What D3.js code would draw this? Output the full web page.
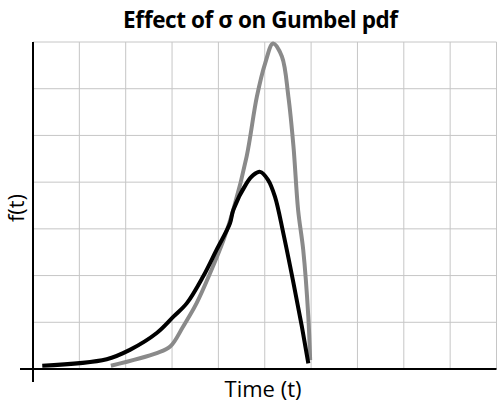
<!DOCTYPE html>
<html>
<head>
<meta charset="utf-8">
<script src="https://cdn.jsdelivr.net/npm/d3@7"></script>
<style>
  body { margin: 0; background: #fff; }
  svg { display: block; font-family: "Open Sans", "DejaVu Sans", sans-serif; }
</style>
</head>
<body>
<svg id="chart" width="500" height="405"></svg>
<script>
// values, in grid units (t across, f(t) up)
const blackT = [0.20, 1.59, 2.09, 2.67, 3.03, 3.32, 3.67, 3.96, 4.25, 4.32, 4.61, 4.75, 4.90, 5.07, 5.22, 5.40, 5.62, 5.80, 5.94];
const blackF = [0.07, 0.21, 0.41, 0.77, 1.12, 1.41, 1.98, 2.55, 3.12, 3.40, 3.98, 4.15, 4.22, 4.05, 3.69, 2.91, 1.84, 0.91, 0.12];

const grayT = [1.68, 2.67, 2.96, 3.24, 3.53, 3.82, 4.11, 4.32, 4.61, 4.83, 5.01, 5.18, 5.37, 5.51, 5.62, 5.72, 5.83, 5.94, 5.98];
const grayF = [0.07, 0.34, 0.48, 0.91, 1.41, 2.05, 2.76, 3.40, 4.55, 5.83, 6.55, 6.97, 6.69, 5.83, 4.76, 3.40, 2.55, 1.12, 0.19];

const xTicks = d3.range(0, 11);
const yTicks = d3.range(0, 8);

const svg = d3.select("#chart");

const x = d3.scaleLinear().domain([0, 10]).range([33, 496.5]);
const y = d3.scaleLinear().domain([0, 7]).range([369, 42]);

// grid
svg.append("g")
  .selectAll("line")
  .data(xTicks.slice(1))
  .join("line")
  .attr("x1", d => x(d)).attr("x2", d => x(d))
  .attr("y1", y(7)).attr("y2", y(0))
  .attr("stroke", "#c6c6c6").attr("stroke-width", 1);

svg.append("g")
  .selectAll("line")
  .data(yTicks.slice(1))
  .join("line")
  .attr("x1", x(0)).attr("x2", x(10))
  .attr("y1", d => y(d)).attr("y2", d => y(d))
  .attr("stroke", "#c6c6c6").attr("stroke-width", 1);

// axes
svg.append("line")
  .attr("x1", 20).attr("x2", x(10))
  .attr("y1", y(0)).attr("y2", y(0))
  .attr("stroke", "#000").attr("stroke-width", 2);
svg.append("line")
  .attr("x1", x(0)).attr("x2", x(0))
  .attr("y1", y(7)).attr("y2", 382)
  .attr("stroke", "#000").attr("stroke-width", 2);

const line = d3.line()
  .x(d => x(d[0]))
  .y(d => y(d[1]))
  .curve(d3.curveCatmullRom);

svg.append("path")
  .datum(d3.zip(grayT, grayF))
  .attr("d", line)
  .attr("fill", "none")
  .attr("stroke", "#8a8a8a")
  .attr("stroke-width", 4)
  .attr("stroke-linejoin", "round");

svg.append("path")
  .datum(d3.zip(blackT, blackF))
  .attr("d", line)
  .attr("fill", "none")
  .attr("stroke", "#000")
  .attr("stroke-width", 4)
  .attr("stroke-linejoin", "round");

// texts
svg.append("text")
  .attr("x", 123).attr("y", 27.5)
  .attr("font-size", 22.5).attr("font-weight", "bold")
  .attr("textLength", 275).attr("lengthAdjust", "spacing")
  .text("Effect of σ on Gumbel pdf");

svg.append("text")
  .attr("x", 263).attr("y", 396.5)
  .attr("text-anchor", "middle")
  .attr("font-size", 22)
  .text("Time (t)");

svg.append("text")
  .attr("transform", "translate(24,208) rotate(-90)")
  .attr("text-anchor", "middle")
  .attr("font-size", 22)
  .text("f(t)");
</script>
</body>
</html>
